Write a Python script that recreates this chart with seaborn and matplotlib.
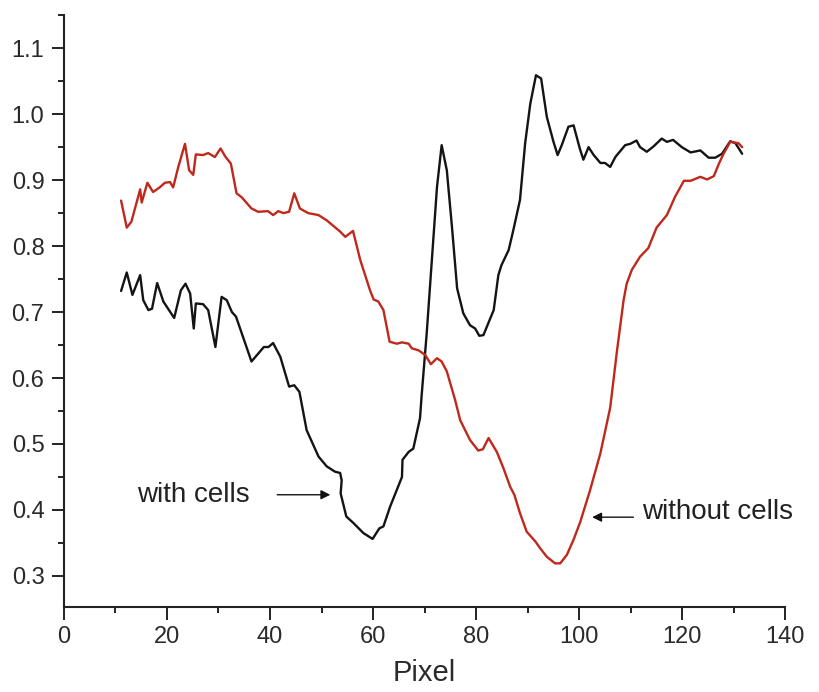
import matplotlib
matplotlib.use("Agg")
import matplotlib.pyplot as plt
import seaborn as sns
import pandas as pd
from matplotlib.ticker import MultipleLocator

with_x = [11.1, 12.2, 13.3, 14.8, 15.4, 16.4, 17.1, 18.1, 19.3, 21.4, 22.7, 23.6, 24.5, 25.2, 25.6,
          27.0, 28.0, 29.4, 30.6, 31.6, 32.6, 33.4, 36.4, 38.8, 39.7, 40.6, 42.0, 43.7, 44.7, 45.7,
          47.1, 49.4, 51.0, 52.6, 53.6, 53.9, 53.7, 54.8, 56.2, 58.1, 59.9, 61.2, 62.0, 63.3, 65.6,
          65.7, 66.9, 67.8, 69.1, 69.4, 70.4, 71.4, 72.4, 73.3, 74.3, 75.3, 76.3, 77.5, 78.8, 79.8,
          80.6, 81.4, 83.4, 84.3, 84.9, 86.3, 87.2, 88.5, 89.5, 90.5, 91.6, 92.6, 93.7, 95.0, 95.8,
          96.6, 97.9, 98.9, 100.1, 100.8, 101.8, 102.8, 104.1, 105.0, 106.0, 107.0, 108.9, 109.9,
          111.1, 111.8, 113.1, 114.4, 116.0, 117.0, 118.2, 119.9, 121.6, 123.5, 125.1, 126.4, 127.7,
          129.3, 130.3, 131.6]
with_y = [0.732, 0.760, 0.726, 0.756, 0.718, 0.703, 0.705, 0.744, 0.716, 0.691, 0.733, 0.743, 0.728,
          0.675, 0.713, 0.712, 0.703, 0.647, 0.723, 0.718, 0.700, 0.693, 0.625, 0.647, 0.647, 0.653,
          0.632, 0.587, 0.589, 0.579, 0.521, 0.481, 0.466, 0.458, 0.456, 0.445, 0.425, 0.390, 0.380,
          0.365, 0.356, 0.372, 0.375, 0.405, 0.450, 0.476, 0.488, 0.493, 0.539, 0.572, 0.668, 0.779,
          0.890, 0.953, 0.915, 0.829, 0.736, 0.698, 0.680, 0.675, 0.664, 0.665, 0.703, 0.756, 0.771,
          0.794, 0.824, 0.870, 0.956, 1.016, 1.059, 1.054, 0.996, 0.958, 0.938, 0.953, 0.981, 0.983,
          0.948, 0.931, 0.950, 0.938, 0.926, 0.926, 0.920, 0.935, 0.953, 0.955, 0.960, 0.950, 0.943,
          0.951, 0.963, 0.958, 0.961, 0.950, 0.942, 0.945, 0.934, 0.934, 0.940, 0.959, 0.956, 0.940]

without_x = [11.1, 12.2, 13.1, 14.8, 15.1, 16.2, 17.3, 18.6, 19.6, 20.6, 21.2, 22.2, 23.5, 24.3, 25.1,
             25.6, 27.0, 28.0, 29.3, 30.4, 31.3, 32.4, 33.5, 34.5, 36.4, 37.7, 39.6, 40.6, 41.6, 42.6,
             43.7, 44.7, 45.8, 47.4, 49.4, 51.0, 53.6, 54.6, 56.1, 57.5, 59.4, 60.1, 61.0, 62.0, 63.2,
             64.6, 65.6, 66.9, 67.5, 68.8, 70.1, 71.2, 72.4, 73.3, 74.3, 75.9, 76.9, 78.8, 80.4, 81.3,
             82.4, 84.0, 85.3, 86.6, 87.4, 88.5, 89.8, 91.5, 92.4, 93.7, 95.3, 96.3, 97.6, 98.9, 100.2,
             102.1, 104.1, 106.0, 107.3, 108.6, 109.2, 110.2, 111.8, 113.4, 115.0, 117.0, 118.6, 120.3,
             121.6, 123.5, 124.8, 126.1, 127.1, 128.0, 129.3, 130.9, 131.6]
without_y = [0.869, 0.828, 0.837, 0.886, 0.866, 0.896, 0.882, 0.889, 0.896, 0.897, 0.889, 0.920, 0.955,
             0.915, 0.908, 0.939, 0.938, 0.941, 0.935, 0.948, 0.936, 0.925, 0.880, 0.874, 0.857, 0.852,
             0.853, 0.847, 0.853, 0.850, 0.852, 0.880, 0.857, 0.850, 0.847, 0.839, 0.822, 0.814, 0.823,
             0.779, 0.733, 0.719, 0.716, 0.703, 0.655, 0.652, 0.654, 0.652, 0.645, 0.642, 0.635, 0.621,
             0.630, 0.625, 0.610, 0.567, 0.536, 0.506, 0.490, 0.492, 0.509, 0.488, 0.463, 0.435, 0.423,
             0.395, 0.367, 0.352, 0.342, 0.329, 0.319, 0.319, 0.332, 0.355, 0.382, 0.430, 0.486, 0.555,
             0.640, 0.718, 0.743, 0.764, 0.784, 0.797, 0.828, 0.847, 0.875, 0.899, 0.899, 0.905, 0.901,
             0.906, 0.925, 0.940, 0.958, 0.956, 0.950]

x_ticks = [0, 20, 40, 60, 80, 100, 120, 140]
y_ticks = [0.3, 0.4, 0.5, 0.6, 0.7, 0.8, 0.9, 1.0, 1.1]
x_label = "Pixel"
label_with = "with cells"
label_without = "without cells"

sns.set_style("ticks")
plt.rcParams["font.family"] = ["Liberation Sans", "DejaVu Sans"]

df = pd.concat([
    pd.DataFrame({"x": with_x, "y": with_y, "s": label_with}),
    pd.DataFrame({"x": without_x, "y": without_y, "s": label_without}),
], ignore_index=True)

fig = plt.figure(figsize=(8.19, 6.92), dpi=100)
ax = fig.add_axes([0.078, 0.123, 0.881, 0.855])

sns.lineplot(data=df, x="x", y="y", hue="s", sort=False, estimator=None,
             palette={label_with: "#141414", label_without: "#c0281c"},
             linewidth=1.7, legend=False, ax=ax)

ax.set_xlim(0, 140)
ax.set_ylim(0.253, 1.15)
ax.set_xticks(x_ticks)
ax.set_yticks(y_ticks)
ax.set_yticklabels([f"{v:.1f}" for v in y_ticks])
ax.xaxis.set_minor_locator(MultipleLocator(10))
ax.yaxis.set_minor_locator(MultipleLocator(0.05))
ax.tick_params(axis="both", which="major", direction="out", length=9, width=1.4,
               labelsize=17, color="#222222", labelcolor="#2a2a2a", pad=5)
ax.tick_params(axis="both", which="minor", direction="out", length=4.5, width=1.4, color="#222222")
for side in ["top", "right"]:
    ax.spines[side].set_visible(False)
for side in ["left", "bottom"]:
    ax.spines[side].set_linewidth(1.5)
    ax.spines[side].set_color("#222222")

ax.set_xlabel(x_label, fontsize=21, color="#2a2a2a", labelpad=8)
ax.set_ylabel("")

ax.annotate("", xy=(51.7, 0.423), xytext=(41.4, 0.423),
            arrowprops=dict(arrowstyle="-|>", color="#111111", lw=1.0, mutation_scale=14,
                            shrinkA=0, shrinkB=0))
ax.text(14.2, 0.423, label_with, fontsize=20, color="#222222", va="center", ha="left")

ax.annotate("", xy=(102.5, 0.389), xytext=(110.5, 0.389),
            arrowprops=dict(arrowstyle="-|>", color="#111111", lw=1.0, mutation_scale=14,
                            shrinkA=0, shrinkB=0))
ax.text(112.2, 0.397, label_without, fontsize=20, color="#222222", va="center", ha="left")

fig.savefig("out.png", dpi=100)
